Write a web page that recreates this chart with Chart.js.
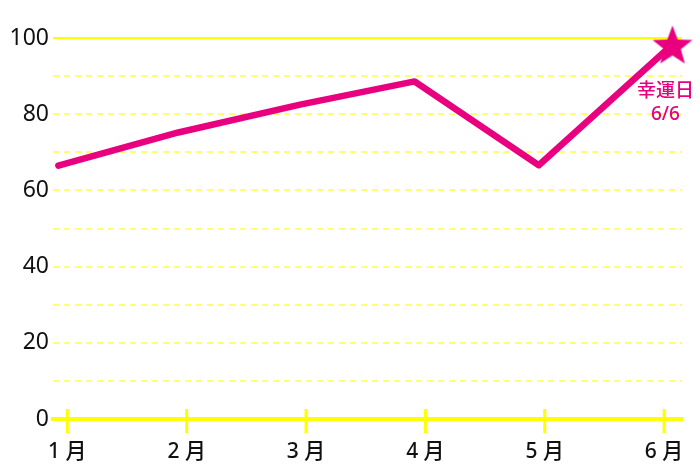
<!DOCTYPE html>
<html>
<head>
<meta charset="utf-8">
<script src="https://cdn.jsdelivr.net/npm/chart.js@4.4.1/dist/chart.umd.min.js"></script>
<style>
  html, body { margin: 0; padding: 0; background: #fff; }
  #wrap { width: 700px; height: 467px; }
</style>
</head>
<body>
<div id="wrap"><canvas id="luckyChart"></canvas></div>
<script>
// month ticks (1..6) and the measured points along them
const monthLabels = ['1 月', '2 月', '3 月', '4 月', '5 月', '6 月'];
const pointMonths = [0.925, 1.93, 2.95, 3.91, 4.95, 6.07];
const pointValues = [66.5, 75.2, 82.5, 88.6, 66.6, 98.3];
const yTicks = [0, 20, 40, 60, 80, 100];
const luckyLabel = ['幸運日', '6/6'];

const PINK = '#e8007f';
const FONT = "'Noto Sans', 'Noto Sans CJK JP', sans-serif";
const CJK = "'Noto Sans CJK JP', sans-serif";

// filled five point star for the last point
function makeStar(size, color) {
    const c = document.createElement('canvas');
    c.width = size; c.height = size;
    const g = c.getContext('2d');
    const cx = size / 2, cy = size / 2 + size * 0.05;
    const outer = size / 2, inner = outer * 0.42;
    g.beginPath();
    for (let i = 0; i < 10; i++) {
        const r = i % 2 === 0 ? outer : inner;
        const a = -Math.PI / 2 + i * Math.PI / 5;
        g.lineTo(cx + r * Math.cos(a), cy + r * Math.sin(a));
    }
    g.closePath();
    g.fillStyle = color;
    g.fill();
    return c;
}
const star = makeStar(42, PINK);

// tick marks crossing the x axis line + label next to lucky day
const extras = {
    id: 'extras',
    afterDatasetsDraw(chart) {
        const ctx = chart.ctx;
        const x = chart.scales.x;
        const y0 = chart.scales.y.getPixelForValue(0);
        ctx.save();
        ctx.strokeStyle = '#ffff00';
        ctx.lineWidth = 3;
        monthLabels.forEach((_, i) => {
            const px = x.getPixelForValue(i + 1);
            ctx.beginPath();
            ctx.moveTo(px, y0 - 10);
            ctx.lineTo(px, y0 + 14);
            ctx.stroke();
        });
        const pts = chart.getDatasetMeta(0).data;
        const last = pts[pts.length - 1];
        ctx.fillStyle = PINK;
        ctx.textAlign = 'center';
        ctx.textBaseline = 'middle';
        ctx.font = '500 19px ' + CJK;
        ctx.fillText(luckyLabel[0], last.x - 7, last.y + 45);
        ctx.font = '500 19px ' + FONT;
        ctx.fillText(luckyLabel[1], last.x - 7, last.y + 70);
        ctx.restore();
    }
};

new Chart(document.getElementById('luckyChart'), {
    type: 'line',
    data: {
        datasets: [{
            data: pointMonths.map((m, i) => ({ x: m, y: pointValues[i] })),
            borderColor: PINK,
            borderWidth: 6.5,
            borderCapStyle: 'round',
            borderJoinStyle: 'round',
            tension: 0,
            clip: false,
            pointRadius: pointValues.map((_, i) => i === pointValues.length - 1 ? 21 : 0),
            pointStyle: pointValues.map((_, i) => i === pointValues.length - 1 ? star : 'circle'),
            pointHoverRadius: 0
        }]
    },
    plugins: [extras],
    options: {
        responsive: true,
        maintainAspectRatio: false,
        animation: false,
        events: [],
        layout: { autoPadding: false, padding: { top: 38, left: 5, right: 18, bottom: 0 } },
        plugins: { legend: { display: false }, tooltip: { enabled: false } },
        scales: {
            x: {
                type: 'linear',
                min: 0.88,
                max: 6.15,
                afterBuildTicks: (s) => { s.ticks = monthLabels.map((_, i) => ({ value: i + 1 })); },
                grid: { display: false },
                border: { display: true, color: '#ffff00', width: 4 },
                ticks: {
                    autoSkip: false,
                    maxRotation: 0,
                    padding: 12,
                    color: '#111',
                    font: { family: FONT, size: 21, weight: '500' },
                    callback: (v) => monthLabels[Math.round(v) - 1]
                },
                afterFit: (s) => { s.height = 48; s.paddingLeft = 0; s.paddingRight = 0; }
            },
            y: {
                min: 0,
                max: 100,
                afterBuildTicks: (s) => {
                    const t = [];
                    for (let v = 0; v <= 100; v += 10) t.push({ value: v });
                    s.ticks = t;
                },
                grid: {
                    drawTicks: false,
                    lineWidth: 2,
                    color: (c) => c.tick && c.tick.value === 100 ? '#ffff00' : '#ffff70'
                },
                border: {
                    display: false,
                    dash: (c) => c.tick && c.tick.value === 100 ? [] : [6, 5]
                },
                ticks: {
                    padding: 4,
                    color: '#111',
                    font: { family: FONT, size: 23 },
                    callback: (v) => yTicks.includes(v) ? String(v) : ''
                },
                afterFit: (s) => { s.width = 48; }
            }
        }
    }
});
</script>
</body>
</html>
